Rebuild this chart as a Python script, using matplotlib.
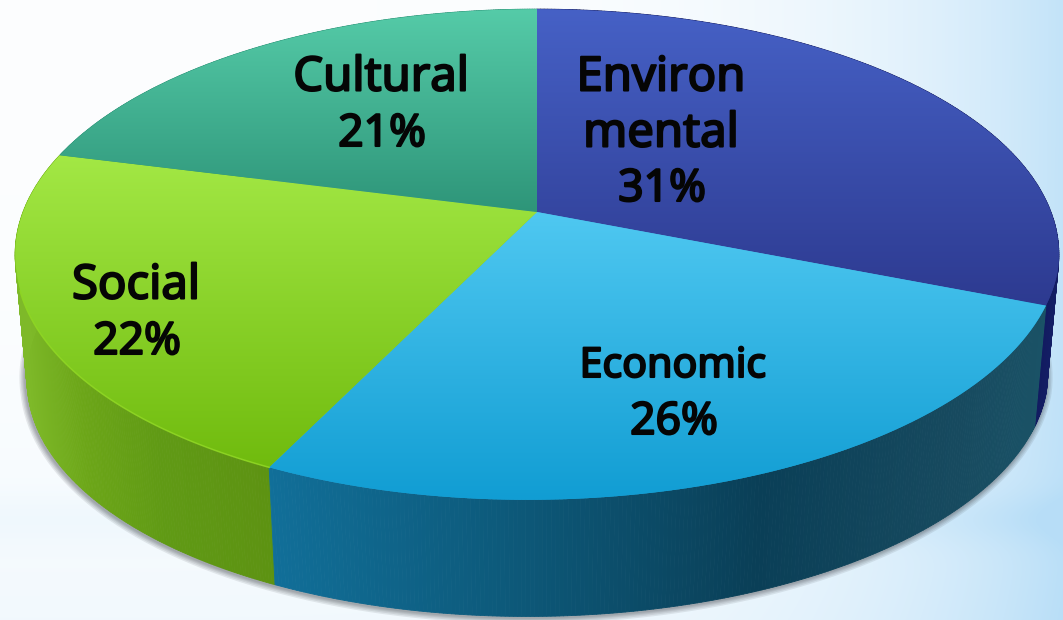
import numpy as np
import matplotlib
matplotlib.use("Agg")
import matplotlib.pyplot as plt
import matplotlib.patheffects as pe
from matplotlib.collections import PolyCollection
from matplotlib.patches import PathPatch
from matplotlib.path import Path

# Share of each dimension, clockwise from twelve o'clock
categories = ["Environmental", "Economic", "Social", "Cultural"]
shares = [31, 26, 22, 21]

# Label lines as they wrap inside the slices
label_lines = [["Environ", "mental"], ["Economic"], ["Social"], ["Cultural"]]
label_pos = [(661, 78, 56), (673, 366, 57), (136, 286, 57), (381, 78, 57)]
label_size = [34, 29.6, 34, 34]

# Top face colours (upper, lower) and side colour stops (x, colour)
top_cols = [("#4661c6", "#2d3a90"), ("#4fc8f1", "#119dd3"),
            ("#a3e845", "#70bb0e"), ("#55cba8", "#2e9579")]
side_cols = [[(1030, "#10185a"), (1060, "#141e66")],
             [(268, "#116f99"), (500, "#0d5a7b"), (760, "#0a3f57"), (960, "#174a5f"), (1045, "#1a5266")],
             [(20, "#7eb929"), (80, "#6ca618"), (160, "#609a15"), (275, "#5d9212")],
             [(0, "#2e9579"), (1063, "#2e9579")]]

W, H = 1063, 620
CX, CY = 537, 212
RX, RY, PERSP = 514, 238, 0.173
FRONT_SHEAR, SHEAR_FROM = 0.043, 60
DROP_Y, DROP_SCALE = 335, 0.978


def project(theta):
    # Perspective view of a flat disc, theta measured clockwise from the back
    u, v = np.sin(theta), np.cos(theta)
    w = 1 + PERSP * v
    x, y = CX + RX * u / w, CY - RY * v / w
    return x - FRONT_SHEAR * np.clip(y - CY - SHEAR_FROM, 0, None), y


def lower(x, y):
    # Matching point on the bottom rim of the disc
    return CX + (x - CX) * DROP_SCALE, DROP_Y + (y - CY) * DROP_SCALE


def hex_rgb(c):
    return np.array(matplotlib.colors.to_rgb(c))


def stop_colour(stops, x):
    xs = [s[0] for s in stops]
    return [np.interp(x, xs, [hex_rgb(s[1])[i] for s in stops]) for i in range(3)]


def outline(text_obj):
    # Thickens the regular weight to a heavier stroke
    text_obj.set_path_effects([pe.withStroke(linewidth=1.5, foreground="#050505")])


fig = plt.figure(figsize=(W / 100, H / 100), dpi=100)
ax = fig.add_axes([0, 0, 1, 1])

# Pale blue backdrop, darkening towards the right edge with a faint band low down
yy, xx = np.mgrid[0:H, 0:W]
tx = (xx / W) ** 5
ty = yy / H
band = np.exp(-((yy - 518) / 26.0) ** 2) * 0.15
amount = np.clip(0.02 + 0.82 * tx + 0.15 * ty ** 3 + band * (0.6 + 0.6 * tx), 0, 1)
light = np.array([0.995, 0.998, 1.0])
deep = np.array([0.72, 0.87, 0.97])
bg = light + (deep - light) * amount[..., None]
ax.imshow(bg, extent=(0, W, H, 0), aspect="auto", zorder=0)

edges = 2 * np.pi * np.concatenate([[0], np.cumsum(shares)]) / sum(shares)

# Soft shadow under the bottom rim
th = np.linspace(np.radians(62), np.radians(292), 300)
sx, sy = lower(*project(th))
for lw in [9, 7, 5, 3.5, 2]:
    ax.plot(sx - 1, sy + 1, color="#40434a", lw=lw, alpha=0.11, zorder=1, solid_capstyle="round")

# Sides as narrow quads, one slice at a time
for i in [3, 0, 2, 1]:
    th = np.linspace(edges[i], edges[i + 1], 240)
    x, y = project(th)
    xl, yl = lower(x, y)
    quads, cols = [], []
    for j in range(len(th) - 1):
        quads.append([(x[j], y[j]), (x[j + 1], y[j + 1]), (xl[j + 1], yl[j + 1]), (xl[j], yl[j])])
        cols.append(stop_colour(side_cols[i], (x[j] + x[j + 1]) / 2))
    ax.add_collection(PolyCollection(quads, facecolors=cols, edgecolors=cols, linewidths=0.6, zorder=2))

# Top faces with a vertical gradient clipped to each slice
for i in range(len(shares)):
    th = np.linspace(edges[i], edges[i + 1], 200)
    x, y = project(th)
    verts = np.vstack([[CX, CY], np.column_stack([x, y]), [CX, CY]])
    path = Path(verts)
    y0, y1 = verts[:, 1].min(), verts[:, 1].max()
    ramp = np.linspace(0, 1, 256)[:, None, None]
    img = hex_rgb(top_cols[i][0]) + (hex_rgb(top_cols[i][1]) - hex_rgb(top_cols[i][0])) * ramp
    # underlay hides hairline gaps along the slice boundaries
    ax.add_patch(PathPatch(path, facecolor=top_cols[i][1], edgecolor="none", zorder=3))
    im = ax.imshow(img, extent=(verts[:, 0].min() - 2, verts[:, 0].max() + 2, y1, y0), aspect="auto",
                   zorder=3.1, interpolation="bilinear")
    im.set_clip_path(PathPatch(path, transform=ax.transData))

# Thin highlight along the front rim of the green slice
th = np.linspace(edges[2], edges[3], 200)
x, y = project(th)
keep = y > 290
ax.plot(x[keep], y[keep], color="#8fd624", lw=1.1, zorder=3.2, alpha=0.9)

# Labels, one text per line
for i, lines in enumerate(label_lines):
    lx, ly, step = label_pos[i]
    for k, line in enumerate(lines):
        outline(ax.text(lx, ly + k * step, line, ha="center", va="center", color="#050505",
                        fontsize=label_size[i], family="Noto Sans", zorder=5))
    outline(ax.text(lx + 1, ly + len(lines) * step, f"{shares[i]}%", ha="center", va="center", color="#050505",
                    fontsize=32, family="Noto Sans", zorder=5))

ax.set_xlim(0, W)
ax.set_ylim(H, 0)
ax.axis("off")
fig.savefig("out.png", dpi=100)
